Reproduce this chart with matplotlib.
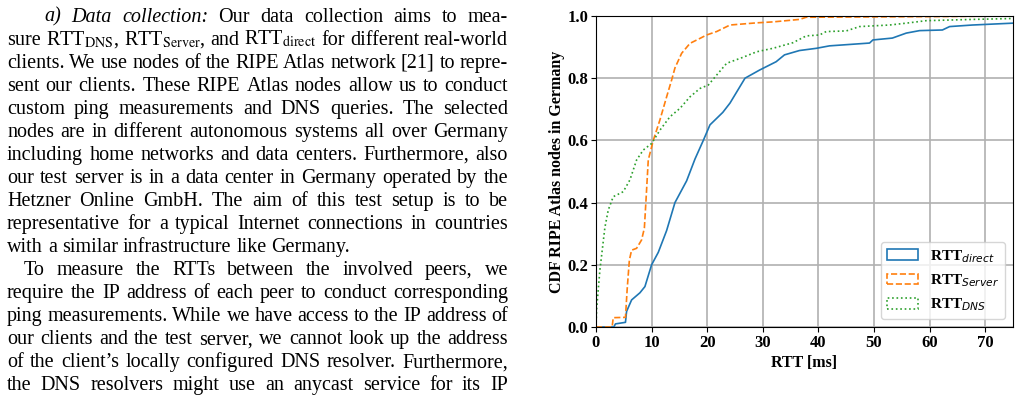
import numpy as np
import matplotlib
matplotlib.use('Agg')
from matplotlib import pyplot as plt
from matplotlib.patches import Patch

# CDF curves (RTT in ms, cumulative share)
direct_rtt = [0, 3.2, 3.5, 5.3, 5.5, 6.4, 7.9, 8.8, 10.0, 11.2, 12.7, 14.2, 16.3, 17.8,
              19.3, 20.5, 22.8, 24.1, 26.8, 29.4, 32.4, 33.9, 36.6, 39.6, 42.0, 49.2,
              49.8, 53.3, 55.8, 58.2, 62.3, 63.6, 67.7, 75]
direct_cdf = [0, 0, 0.01, 0.015, 0.05, 0.087, 0.11, 0.13, 0.2, 0.24, 0.31, 0.40, 0.47, 0.54,
              0.60, 0.65, 0.69, 0.72, 0.80, 0.826, 0.853, 0.875, 0.889, 0.896, 0.904, 0.913,
              0.923, 0.929, 0.945, 0.953, 0.955, 0.966, 0.971, 0.977]

server_rtt = [0, 2.9, 3.1, 5.3, 5.6, 6.0, 6.4, 7.3, 8.2, 8.7, 9.0, 9.4, 10.3, 11.5, 12.7,
              13.6, 14.2, 15.4, 16.9, 18.7, 19.9, 21.7, 24.1, 28.9, 31.8, 36.6, 37.8, 60, 75]
server_cdf = [0, 0, 0.03, 0.031, 0.12, 0.215, 0.247, 0.253, 0.28, 0.318, 0.41, 0.537, 0.60,
              0.666, 0.74, 0.794, 0.833, 0.88, 0.912, 0.928, 0.939, 0.95, 0.971, 0.978, 0.981,
              0.989, 0.996, 0.998, 1.0]

dns_rtt = [0, 0.1, 0.7, 1.6, 2.2, 3.1, 4.9, 6.1, 7.3, 8.5, 10.0, 11.5, 13.3, 15.1, 16.9,
           18.7, 20.2, 21.7, 23.5, 26.4, 28.9, 31.8, 35.4, 37.8, 40.2, 41.4, 45, 47.4, 52.8,
           55.8, 59.4, 67.7, 75]
dns_cdf = [0, 0.055, 0.183, 0.32, 0.376, 0.419, 0.435, 0.473, 0.537, 0.569, 0.59, 0.633,
           0.676, 0.703, 0.74, 0.767, 0.778, 0.81, 0.848, 0.867, 0.885, 0.896, 0.914, 0.936,
           0.939, 0.95, 0.952, 0.966, 0.971, 0.977, 0.985, 0.989, 0.992]

series_labels = [r'RTT$_{direct}$', r'RTT$_{Server}$', r'RTT$_{DNS}$']

# paper text beside the figure: (text, justified, indent, italic words at start)
body_lines = [
    ("a) Data collection: Our data collection aims to mea-", True, 'a', 3),
    (r"sure RTT$_{\mathrm{DNS}}$, RTT$_{\mathrm{Server}}$, and RTT$_{\mathrm{direct}}$ for different real-world", True, '', 0),
    ("clients. We use nodes of the RIPE Atlas network [21] to repre-", True, '', 0),
    ("sent our clients. These RIPE Atlas nodes allow us to conduct", True, '', 0),
    ("custom ping measurements and DNS queries. The selected", True, '', 0),
    ("nodes are in different autonomous systems all over Germany", True, '', 0),
    ("including home networks and data centers. Furthermore, also", True, '', 0),
    ("our test server is in a data center in Germany operated by the", True, '', 0),
    ("Hetzner Online GmbH. The aim of this test setup is to be", True, '', 0),
    ("representative for a typical Internet connections in countries", True, '', 0),
    ("with a similar infrastructure like Germany.", False, '', 0),
    ("To measure the RTTs between the involved peers, we", True, 'p', 0),
    ("require the IP address of each peer to conduct corresponding", True, '', 0),
    ("ping measurements. While we have access to the IP address of", True, '', 0),
    ("our clients and the test server, we cannot look up the address", True, '', 0),
    ("of the client\u2019s locally configured DNS resolver. Furthermore,", True, '', 0),
    ("the DNS resolvers might use an anycast service for its IP", True, '', 0),
]

W, H = 1020, 400
fig = plt.figure(figsize=(W / 100, H / 100), dpi=100)
renderer = fig.canvas.get_renderer()

serif = 'Liberation Serif'
body_size = 14.5
left_px, right_px = 7, 508
indent_px = {'': 0, 'a': 37, 'p': 17}

for i, (line, justify, ind, n_it) in enumerate(body_lines):
    y = 1 - (21.5 + 23.05 * i) / H
    words = line.split(' ')
    objs = []
    for k, w in enumerate(words):
        t = fig.text(0, y, w, fontsize=body_size, family=serif, va='baseline',
                     style='italic' if k < n_it else 'normal', math_fontfamily='stix')
        objs.append(t)
    widths = [t.get_window_extent(renderer).width for t in objs]
    x0 = left_px + indent_px[ind]
    if justify and len(words) > 1:
        gap = (right_px - x0 - sum(widths)) / (len(words) - 1)
    else:
        gap = body_size * 0.25 * 100 / 72
    x = x0
    for t, w in zip(objs, widths):
        t.set_x(x / W)
        x += w + gap

# chart
ax = fig.add_axes([596 / W, 1 - 327 / H, (1013 - 596) / W, (327 - 16) / H])
ax.plot(direct_rtt, direct_cdf, color='tab:blue', lw=1.2, ls='-')
ax.plot(server_rtt, server_cdf, color='tab:orange', lw=1.2, ls='--')
ax.plot(dns_rtt, dns_cdf, color='tab:green', lw=1.2, ls=':')

ax.set_xlim(0, 75)
ax.set_ylim(0, 1.0)
ax.set_xticks(np.arange(0, 80, 10))
ax.set_yticks(np.arange(0, 1.01, 0.2))
ax.set_yticklabels(['%.1f' % v for v in np.arange(0, 1.01, 0.2)])
ax.grid(True, color='#b0b0b0', lw=1.2)
ax.set_axisbelow(True)
for lab in ax.get_xticklabels() + ax.get_yticklabels():
    lab.set_fontfamily(serif)
    lab.set_fontweight('bold')
    lab.set_fontsize(12)
ax.tick_params(length=3.5, width=0.8, pad=2)
ax.set_xlabel('RTT [ms]', family=serif, weight='bold', fontsize=11.5, labelpad=3)
ax.set_ylabel('CDF RIPE Atlas nodes in Germany', family=serif, weight='bold',
              fontsize=11.5, labelpad=2)

handles = [
    Patch(facecolor='none', edgecolor='tab:blue', ls='-', lw=1.2, label=series_labels[0]),
    Patch(facecolor='none', edgecolor='tab:orange', ls='--', lw=1.2, label=series_labels[1]),
    Patch(facecolor='none', edgecolor='tab:green', ls=':', lw=1.2, label=series_labels[2]),
]
ax.legend(handles=handles, loc='lower right',
          prop={'family': serif, 'weight': 'bold', 'size': 11})

fig.savefig('out.png', dpi=100)
